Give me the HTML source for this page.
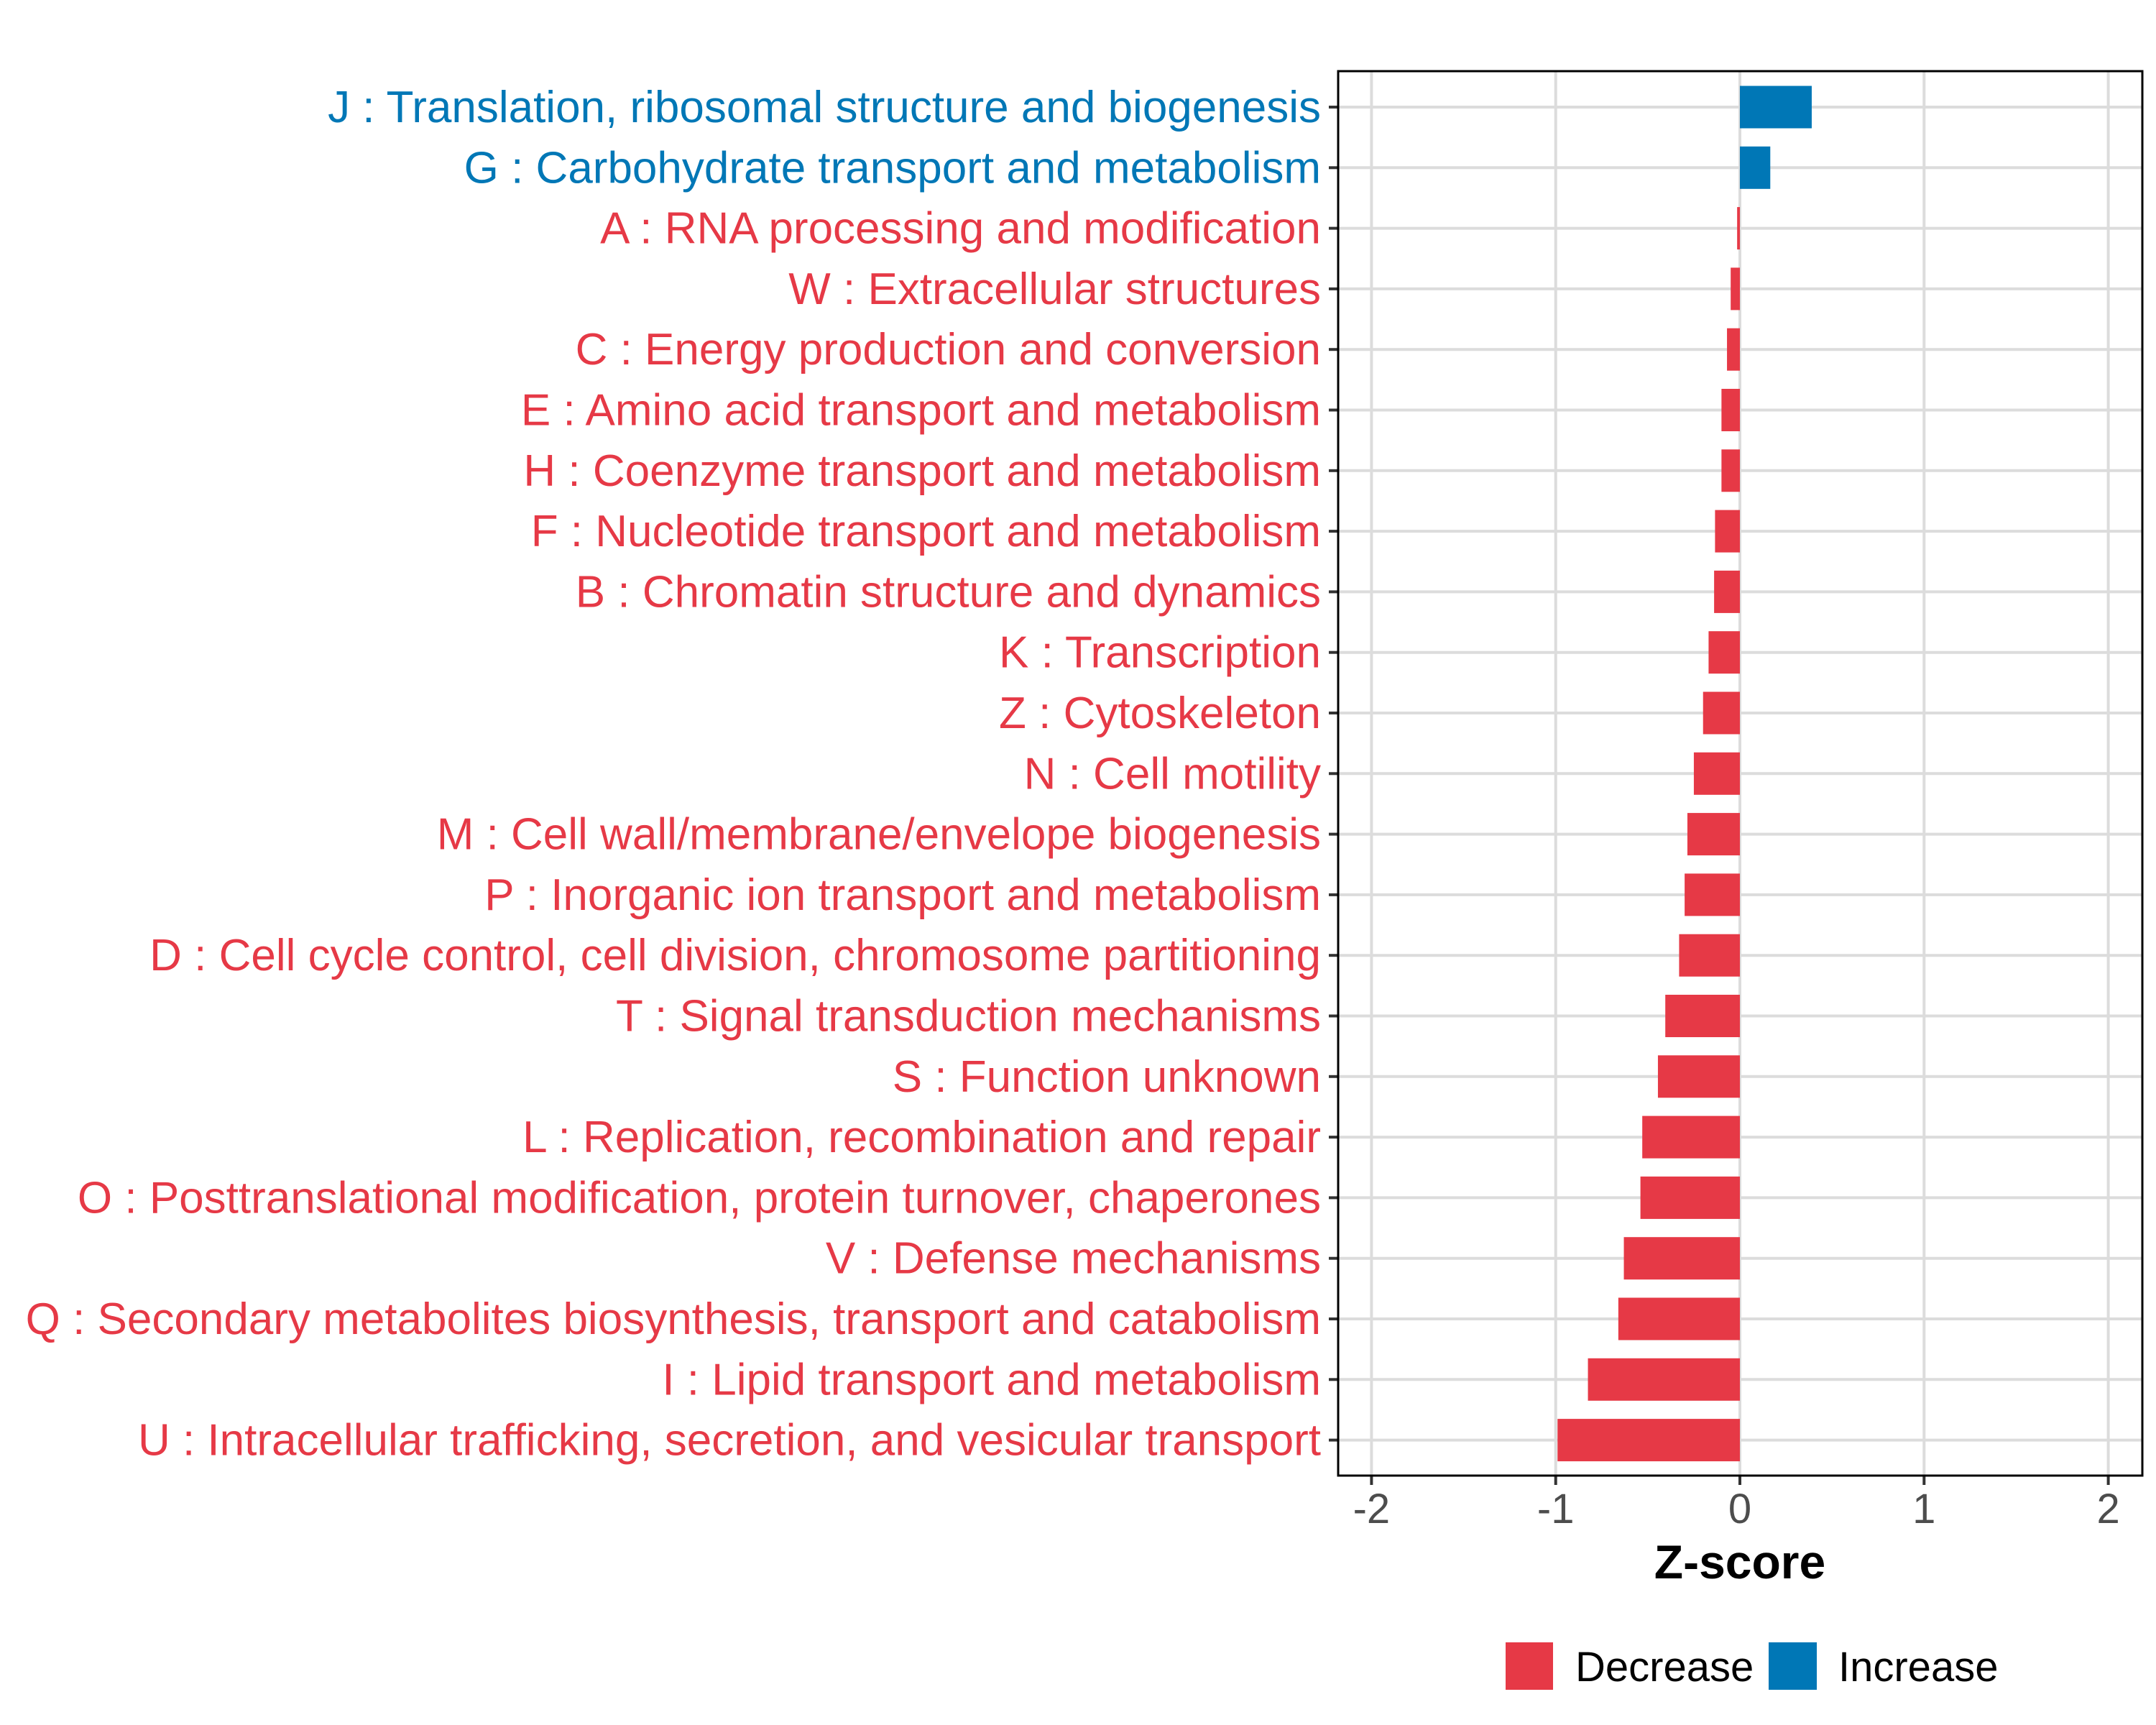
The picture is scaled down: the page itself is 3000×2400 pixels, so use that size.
<!DOCTYPE html>
<html><head><meta charset="utf-8"><style>
html,body{margin:0;padding:0;background:#fff;}
svg{display:block;font-family:"Liberation Sans",sans-serif;}
</style></head><body>
<svg id="chart" width="3000" height="2400" viewBox="0 0 3000 2400" xmlns="http://www.w3.org/2000/svg">
<rect x="0" y="0" width="3000" height="2400" fill="#fff"/>
<g id="grid"></g><g id="bars"></g><g id="ylabels"></g><g id="xticks"></g>
<rect x="1862" y="99" width="1119" height="1954" fill="none" stroke="#000" stroke-width="3"/>
<text x="2421" y="2196" font-size="66" font-weight="bold" text-anchor="middle" fill="#000">Z-score</text>
<rect x="2095" y="2285" width="66" height="66" fill="#e63946"/>
<text x="2192" y="2339" font-size="58" fill="#000">Decrease</text>
<rect x="2461" y="2285" width="67" height="66" fill="#0077b6"/>
<text x="2558" y="2339" font-size="58" fill="#000">Increase</text>
</svg>
<script>
const categories = ["J : Translation, ribosomal structure and biogenesis","G : Carbohydrate transport and metabolism","A : RNA processing and modification","W : Extracellular structures","C : Energy production and conversion","E : Amino acid transport and metabolism","H : Coenzyme transport and metabolism","F : Nucleotide transport and metabolism","B : Chromatin structure and dynamics","K : Transcription","Z : Cytoskeleton","N : Cell motility","M : Cell wall/membrane/envelope biogenesis","P : Inorganic ion transport and metabolism","D : Cell cycle control, cell division, chromosome partitioning","T : Signal transduction mechanisms","S : Function unknown","L : Replication, recombination and repair","O : Posttranslational modification, protein turnover, chaperones","V : Defense mechanisms","Q : Secondary metabolites biosynthesis, transport and catabolism","I : Lipid transport and metabolism","U : Intracellular trafficking, secretion, and vesicular transport"];
const zscores = [0.39,0.165,-0.015,-0.05,-0.07,-0.1,-0.1,-0.135,-0.14,-0.17,-0.2,-0.25,-0.285,-0.3,-0.33,-0.405,-0.445,-0.53,-0.54,-0.63,-0.66,-0.825,-0.99];
const xTicks = [-2,-1,0,1,2];
const xTickLabels = ["-2","-1","0","1","2"];
const NS="http://www.w3.org/2000/svg";
const x0=2421, unit=256.3, y0=149, step=84.3, barH=59;
const panelL=1862, panelR=2981, panelT=99, panelB=2053;
const xs=v=>x0+v*unit, ys=i=>y0+i*step;
function mk(tag,attrs,parent){const e=document.createElementNS(NS,tag);for(const k in attrs)e.setAttribute(k,attrs[k]);parent.appendChild(e);return e;}
const grid=document.getElementById('grid'),bars=document.getElementById('bars'),yl=document.getElementById('ylabels'),xt=document.getElementById('xticks');
xTicks.forEach((t,i)=>{
  const g=mk('line',{x1:xs(t),x2:xs(t),y1:panelT,y2:panelB,stroke:'#dcdcdc','stroke-width':4},grid);
  
  
  const tk=mk('line',{x1:xs(t),x2:xs(t),y1:panelB,y2:panelB+13,stroke:'#333','stroke-width':4},xt);
  
  
  const tl=mk('text',{x:xs(t),y:2119,'font-size':58,'text-anchor':'middle',fill:'#4d4d4d'},xt);
  tl.textContent=xTickLabels[i];
  
  
});
categories.forEach((c,i)=>{
  const y=ys(i);
  const g=mk('line',{x1:panelL,x2:panelR,y1:y,y2:y,stroke:'#dcdcdc','stroke-width':4},grid);
  
  
  const v=zscores[i], col=v>=0?'#0077b6':'#e63946';
  const b=mk('rect',{x:Math.min(xs(0),xs(v)),y:y-barH/2,width:Math.max(2,Math.abs(xs(v)-xs(0))),height:barH,fill:col},bars);
  
  
  const tk=mk('line',{x1:panelL-13,x2:panelL,y1:y,y2:y,stroke:'#333','stroke-width':4},yl);
  
  
  const t=mk('text',{x:1838,y:y+21,'font-size':62,'text-anchor':'end',fill:col},yl);
  t.textContent=c;
  
  
});
</script>
</body></html>
